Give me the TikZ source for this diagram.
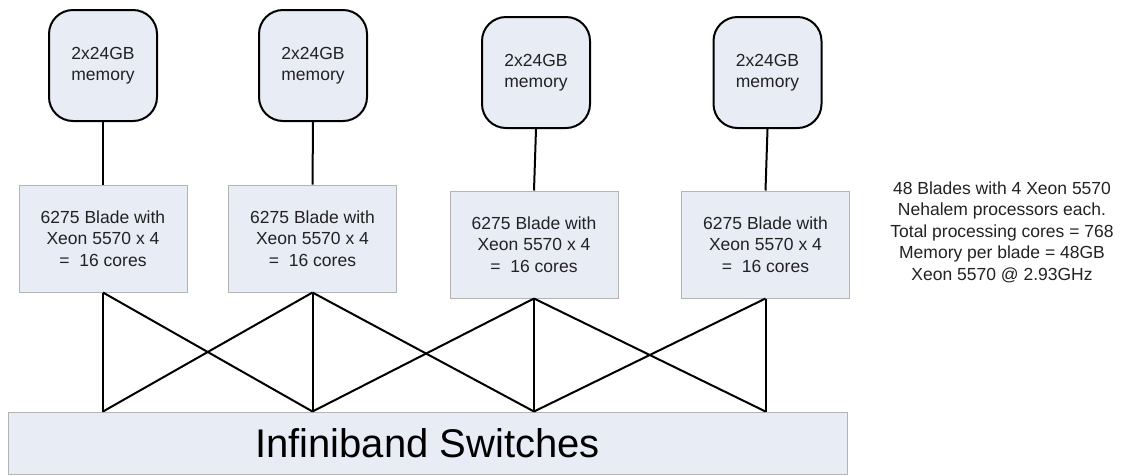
\documentclass[tikz,border=0pt]{standalone}
\usepackage{fontspec}
\setmainfont{Liberation Sans}
\usetikzlibrary{positioning}
\definecolor{boxfill}{HTML}{E8ECF5}
\definecolor{bladeline}{HTML}{B4B4B4}
\definecolor{textgray}{HTML}{222222}

\begin{document}
\begin{tikzpicture}[x=1pt,y=-1pt,
    every node/.style={font=\fontsize{17.5}{21.5}\selectfont,text=textgray,align=center},
    memory/.style={draw=black,line width=2pt,fill=boxfill,rounded corners=24pt,
        minimum width=108pt,minimum height=111pt,inner sep=0pt},
    blade/.style={draw=bladeline,line width=1pt,fill=boxfill,
        minimum width=168pt,minimum height=107pt,inner sep=0pt},
    link/.style={draw=black,line width=2pt}]
    \useasboundingbox (0,0) rectangle (1123,475);
    \node[memory] (m1) at (103,65.5) {2x24GB\\memory};
    \node[memory] (m2) at (313,65.5) {2x24GB\\memory};
    \node[memory] (m3) at (536,72.5) {2x24GB\\memory};
    \node[memory] (m4) at (767.5,72.5) {2x24GB\\memory};
    \node[blade] (b1) at (103,238.5) {6275 Blade with\\Xeon 5570 x 4\\=\ \ 16 cores};
    \node[blade] (b2) at (312.5,238.5) {6275 Blade with\\Xeon 5570 x 4\\=\ \ 16 cores};
    \node[blade] (b3) at (534,244.5) {6275 Blade with\\Xeon 5570 x 4\\=\ \ 16 cores};
    \node[blade] (b4) at (765.5,244.5) {6275 Blade with\\Xeon 5570 x 4\\=\ \ 16 cores};
    \node[draw=bladeline,line width=1pt,fill=boxfill,minimum width=839pt,minimum height=62pt,
        inner sep=0pt,font=\fontsize{40}{48}\selectfont,text=black] (sw) at (427.5,443) {Infiniband Switches};
    \node (info) at (1002,232) {48 Blades with 4 Xeon 5570\\Nehalem processors each.\\Total processing cores = 768\\Memory per blade = 48GB\\Xeon 5570 @ 2.93GHz};
    % ports on top of the switches
    \coordinate (s1) at (b1.south |- sw.north);
    \coordinate (s2) at (b2.south |- sw.north);
    \coordinate (s3) at (b3.south |- sw.north);
    \coordinate (s4) at (b4.south |- sw.north);
    \draw[link] (m1.south) -- (b1.north);
    \draw[link] (m2.south) -- (b2.north);
    \draw[link] (m3.south) -- (b3.north);
    \draw[link] (m4.south) -- (b4.north);
    \draw[link] (b1.south) -- (s1);
    \draw[link] (b2.south) -- (s2);
    \draw[link] (b3.south) -- (s3);
    \draw[link] (b4.south) -- (s4);
    \draw[link] (b1.south) -- (s2);
    \draw[link] (b2.south) -- (s1);
    \draw[link] (b2.south) -- (s3);
    \draw[link] (b3.south) -- (s2);
    \draw[link] (b3.south) -- (s4);
    \draw[link] (b4.south) -- (s3);
\end{tikzpicture}
\end{document}
